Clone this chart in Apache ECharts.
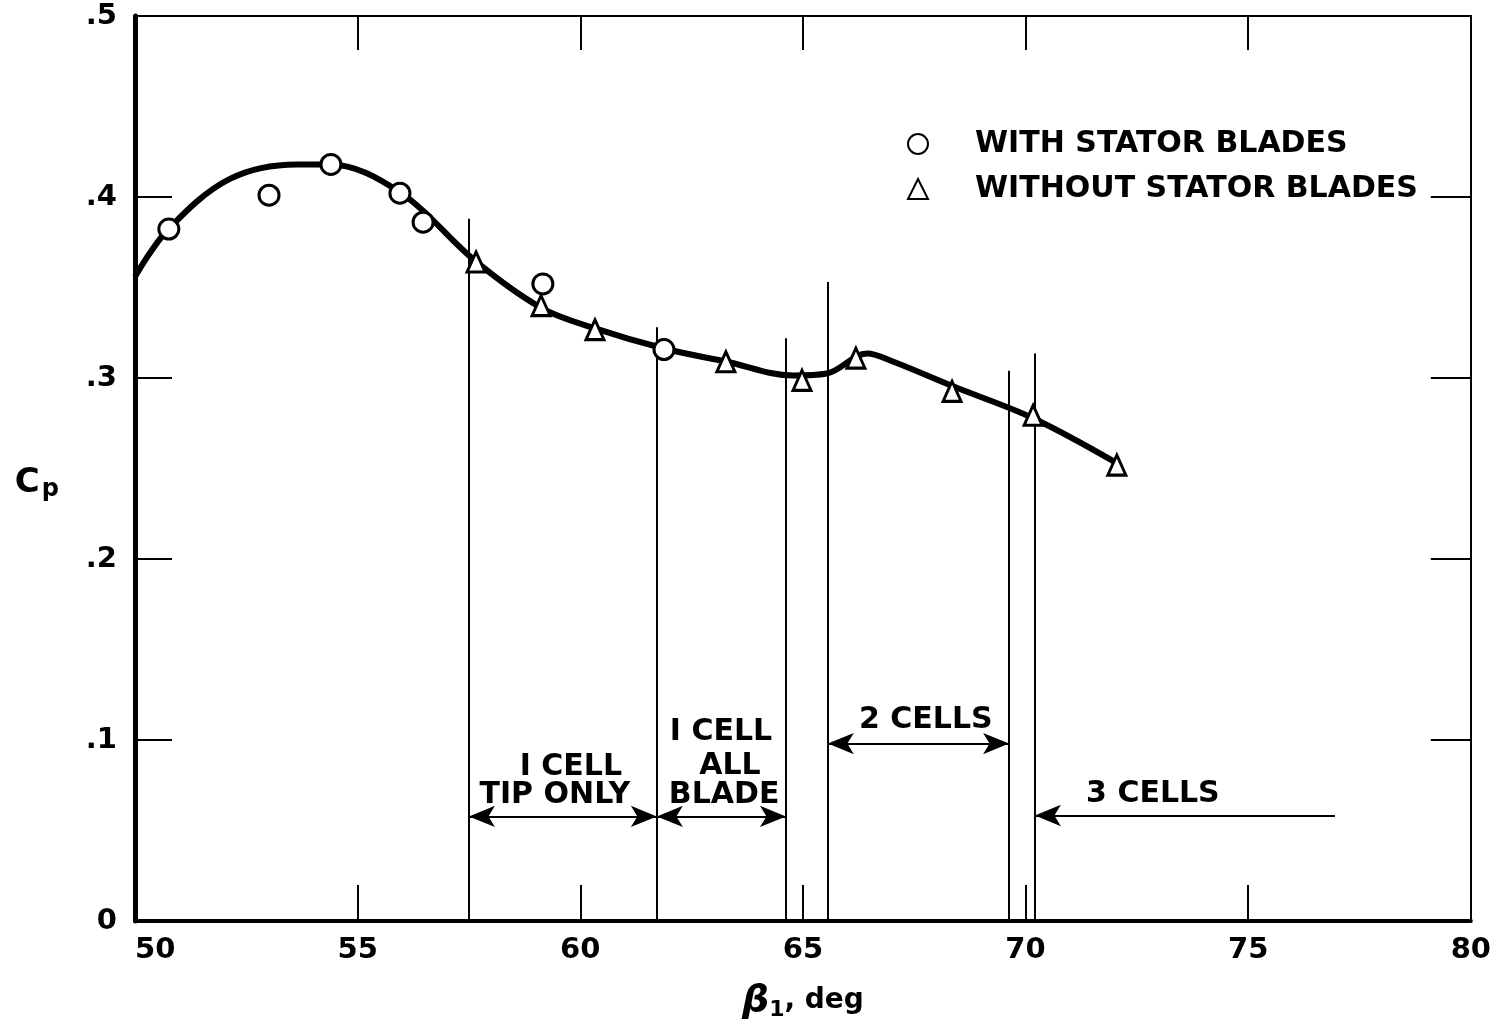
<!DOCTYPE html>
<html><head><meta charset="utf-8">
<script src="https://cdn.jsdelivr.net/npm/echarts@6/dist/echarts.min.js"></script>
<style>html,body{margin:0;padding:0;background:#fff}#c{width:1494px;height:1026px}</style>
</head><body><div id="c"></div>
<script>
// ---- data ----
const curveBeta = [50.0, 50.74, 52.13, 53.64, 54.38, 55.95, 57.64, 59.12, 60.35, 61.88, 63.27, 64.78, 65.54, 66.44, 67.02, 68.37, 70.17, 72.05];
const curveCp   = [0.356, 0.382, 0.410, 0.418, 0.418, 0.4026, 0.3647, 0.3388, 0.3273, 0.3163, 0.3091, 0.3014, 0.3025, 0.3135, 0.3091, 0.2954, 0.2778, 0.253];
const withBeta    = [50.76, 53.01, 54.40, 55.95, 56.47, 59.16, 61.88];
const withCp      = [0.3823, 0.401, 0.418, 0.4021, 0.3861, 0.352, 0.3157];
const withoutBeta = [57.66, 59.12, 60.33, 63.27, 64.98, 66.19, 68.35, 70.17, 72.05];
const withoutCp   = [0.3641, 0.340, 0.3267, 0.309, 0.2987, 0.311, 0.2926, 0.2794, 0.2519];
const boundaryBeta  = [57.50, 61.72, 64.62, 65.56, 69.63, 70.21];
const boundaryTopCp = [0.388, 0.328, 0.322, 0.353, 0.304, 0.3135];
const regionFrom  = [57.50, 61.72, 65.56, 76.95];
const regionTo    = [61.72, 64.62, 69.63, 70.21];
const regionCp    = [0.0578, 0.0578, 0.098, 0.0583];
const regionBoth  = [true, true, true, false];
const annotationText = ['I CELL', 'TIP ONLY', 'I CELL', 'ALL', 'BLADE', '2 CELLS', '3 CELLS'];
const annotationBeta = [59.79, 59.43, 63.16, 63.36, 63.23, 67.76, 72.86];
const annotationCp   = [0.0850, 0.0696, 0.1043, 0.0856, 0.0696, 0.1112, 0.0700];
const seriesNames = ['WITH STATOR BLADES', 'WITHOUT STATOR BLADES'];

const FONT = 'DejaVu Sans';
const zip = (a, b) => a.map((v, i) => [v, b[i]]);

const boundaryLines = boundaryBeta.map((b, i) => [
  { coord: [b, 0], symbol: 'none' },
  { coord: [b, boundaryTopCp[i]], symbol: 'none' }
]);
const arrowLines = regionFrom.map((f, i) => [
  { coord: [f, regionCp[i]], symbol: regionBoth[i] ? 'arrow' : 'none' },
  { coord: [regionTo[i], regionCp[i]], symbol: 'arrow' }
]);

const chart = echarts.init(document.getElementById('c'), null, { renderer: 'canvas' });
chart.setOption({
  animation: false,
  backgroundColor: '#fff',
  grid: { left: 135, right: 23, top: 16, bottom: 101 },
  legend: {
    data: seriesNames,
    orient: 'vertical',
    left: 902, top: 123,
    itemWidth: 20, itemHeight: 20, itemGap: 13,
    textStyle: { fontFamily: FONT, fontWeight: 'bold', fontSize: 30, color: '#000', padding: [0, 0, 0, 42], lineHeight: 32 }
  },
  xAxis: [{
    type: 'value', min: 50, max: 80, interval: 5, position: 'bottom',
    axisLine: { show: true, onZero: false, lineStyle: { color: '#000', width: 4 } },
    axisTick: { show: true, inside: true, length: 36, lineStyle: { color: '#000', width: 2 } },
    splitLine: { show: false },
    axisLabel: { color: '#000', fontFamily: FONT, fontWeight: 'bold', fontSize: 29, margin: 15, alignMinLabel: 'left' },
    name: '{b|β}{s|1}{t|, deg}', nameLocation: 'middle', nameGap: 60,
    nameTextStyle: {
      rich: {
        b: { fontFamily: FONT, fontStyle: 'italic', fontWeight: 'bold', fontSize: 38, color: '#000' },
        s: { fontFamily: FONT, fontWeight: 'bold', fontSize: 22, color: '#000', padding: [18, 0, 0, 0] },
        t: { fontFamily: FONT, fontWeight: 'bold', fontSize: 28, color: '#000' }
      }
    }
  }, {
    type: 'value', min: 50, max: 80, interval: 5, position: 'top',
    axisLine: { show: true, onZero: false, lineStyle: { color: '#000', width: 2 } },
    axisTick: { show: true, inside: true, length: 34, lineStyle: { color: '#000', width: 2 } },
    axisLabel: { show: false }, splitLine: { show: false }
  }],
  yAxis: [{
    type: 'value', min: 0, max: 0.5, interval: 0.1, position: 'left',
    axisLine: { show: true, onZero: false, lineStyle: { color: '#000', width: 5 } },
    axisTick: { show: true, inside: true, length: 37, lineStyle: { color: '#000', width: 2 } },
    splitLine: { show: false },
    axisLabel: {
      color: '#000', fontFamily: FONT, fontWeight: 'bold', fontSize: 29, margin: 18, padding: [6, 0, 0, 0],
      formatter: v => v === 0 ? '0' : String(+v.toFixed(1)).replace('0.', '.')
    },
    name: '{c|C}{p|p}', nameLocation: 'middle', nameRotate: 0, nameGap: 76,
    nameTextStyle: {
      padding: [30, 0, 0, 0],
      rich: {
        c: { fontFamily: FONT, fontWeight: 'bold', fontSize: 34, color: '#000' },
        p: { fontFamily: FONT, fontWeight: 'bold', fontSize: 24, color: '#000', padding: [12, 0, 0, 2] }
      }
    }
  }, {
    type: 'value', min: 0, max: 0.5, interval: 0.1, position: 'right',
    axisLine: { show: true, onZero: false, lineStyle: { color: '#000', width: 2 } },
    axisTick: { show: true, inside: true, length: 40, lineStyle: { color: '#000', width: 2 } },
    axisLabel: { show: false }, splitLine: { show: false }
  }],
  series: [{
    name: 'curve', type: 'line', data: zip(curveBeta, curveCp),
    smooth: 0.35, showSymbol: false, symbol: 'none', z: 3,
    lineStyle: { color: '#000', width: 6 },
    markLine: {
      silent: true, animation: false, symbolSize: [16, 26],
      label: { show: false },
      lineStyle: { color: '#000', width: 2, type: 'solid', opacity: 1 },
      emphasis: { disabled: true },
      data: boundaryLines.concat(arrowLines)
    }
  }, {
    name: 'labels', type: 'scatter', silent: true, z: 4,
    data: annotationBeta.map((b, i) => ({ value: [b, annotationCp[i]], name: annotationText[i] })),
    symbolSize: 1, itemStyle: { color: '#fff', opacity: 1 },
    label: {
      show: true, position: 'inside', formatter: p => p.name,
      color: '#000', opacity: 1, textBorderWidth: 0,
      fontFamily: FONT, fontWeight: 'bold', fontSize: 30, align: 'center', verticalAlign: 'middle'
    }
  }, {
    name: seriesNames[0], type: 'scatter', data: zip(withBeta, withCp), z: 5,
    symbol: 'circle', symbolSize: 20,
    itemStyle: { color: '#fff', borderColor: '#000', borderWidth: 3, opacity: 1 }
  }, {
    name: seriesNames[1], type: 'scatter', data: zip(withoutBeta, withoutCp), z: 5,
    symbol: 'triangle', symbolSize: [18, 20],
    itemStyle: { color: '#fff', borderColor: '#000', borderWidth: 3, opacity: 1 }
  }]
});
</script></body></html>
